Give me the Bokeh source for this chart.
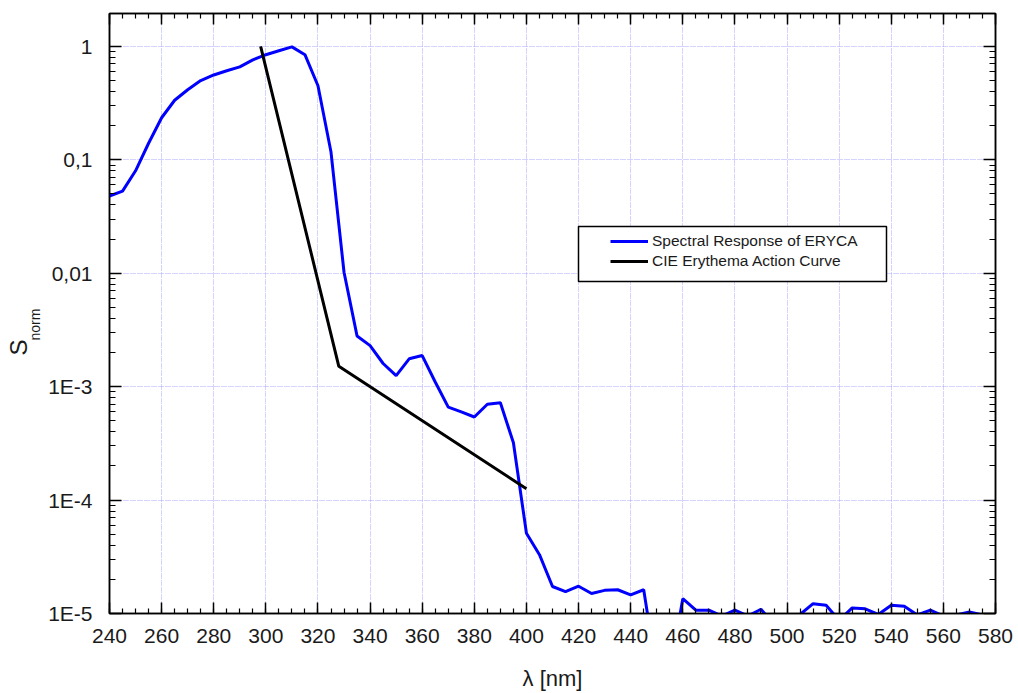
from math import pi
from bokeh.plotting import figure
from bokeh.models import (FixedTicker, LinearAxis, LogAxis, Label, BoxAnnotation,
                          Legend, LegendItem, Range1d)
from bokeh.embed import file_html
from bokeh.resources import INLINE

# ---------------- data ----------------
wavelength_nm = [240, 245, 250, 255, 260, 265, 270, 275, 280, 285, 290, 295,
                 300, 305, 310, 315, 320, 325, 330, 335, 340, 345, 350, 355,
                 360, 365, 370, 375, 380, 385, 390, 395, 400, 405, 410, 415,
                 420, 425, 430, 435, 440, 445, 450, 455, 460, 465, 470, 475,
                 480, 485, 490, 495, 500, 505, 510, 515, 520, 525, 530, 535,
                 540, 545, 550, 555, 560, 565, 570, 575, 580]
spectral_response_eryca = [0.048, 0.053, 0.080, 0.14, 0.235, 0.335, 0.415, 0.50,
                           0.56, 0.61, 0.66, 0.76, 0.845, 0.915, 0.99, 0.845,
                           0.45, 0.117, 0.0102, 0.0028, 0.0023, 0.0016, 0.00125,
                           0.00176, 0.00188, 0.0011, 0.00066, 0.0006, 0.00054,
                           0.0007, 0.00072, 0.00032, 5.1e-5, 3.3e-5, 1.73e-5,
                           1.56e-5, 1.74e-5, 1.5e-5, 1.6e-5, 1.62e-5, 1.46e-5,
                           1.62e-5, 3e-6, 3e-6, 1.35e-5, 1.07e-5, 1.07e-5, 9.5e-6,
                           1.07e-5, 9.5e-6, 1.09e-5, 8e-6, 5e-6, 9.8e-6, 1.22e-5,
                           1.18e-5, 8.7e-6, 1.12e-5, 1.1e-5, 9.8e-6, 1.18e-5,
                           1.16e-5, 9.7e-6, 1.07e-5, 9.5e-6, 9.7e-6, 1.03e-5,
                           9.7e-6, 9e-6]
cie_wavelength_nm = [298, 328, 400]
cie_erythema = [1.0, 0.00151, 0.000126]

x_tick_values = [240, 260, 280, 300, 320, 340, 360, 380, 400, 420, 440, 460,
                 480, 500, 520, 540, 560, 580]
x_minor_values = list(range(240, 581, 5))
y_tick_values = [1e-5, 1e-4, 1e-3, 1e-2, 1e-1, 1.0]
y_tick_labels = ["1E-5", "1E-4", "1E-3", "0,01", "0,1", "1"]
y_minor_values = [m * d for d in [1e-5, 1e-4, 1e-3, 1e-2, 1e-1] for m in range(2, 10)]

series_names = ["Spectral Response of ERYCA", "CIE Erythema Action Curve"]
x_label = "λ [nm]"
y_label_main = "S"
y_label_sub = "norm"

FONT = "Liberation Sans"

# ---------------- figure ----------------
p = figure(width=1018, height=693,
           x_range=Range1d(240, 580), y_range=Range1d(1e-5, 1.95),
           y_axis_type="log", output_backend="svg", toolbar_location=None,
           min_border_left=109, min_border_right=23,
           min_border_top=13, min_border_bottom=78)
p.background_fill_color = "white"
p.border_fill_color = "white"
p.outline_line_color = "black"
p.outline_line_width = 1.5

x_ticker = FixedTicker(ticks=x_tick_values, minor_ticks=x_minor_values)
y_ticker = FixedTicker(ticks=y_tick_values, minor_ticks=y_minor_values)

top_axis = LinearAxis()
right_axis = LogAxis()
p.add_layout(top_axis, "above")
p.add_layout(right_axis, "right")


def style(ax, ticker, major_len, minor_len, labels):
    ax.ticker = ticker
    ax.axis_line_color = "black"
    ax.axis_line_width = 1.5
    ax.major_tick_in = major_len
    ax.major_tick_out = 0
    ax.minor_tick_in = minor_len
    ax.minor_tick_out = 0
    ax.major_tick_line_color = "black"
    ax.major_tick_line_width = 1.5
    ax.minor_tick_line_color = "black"
    ax.minor_tick_line_width = 1.2
    ax.major_label_text_font = FONT
    ax.major_label_text_color = "#1a1a1a"
    ax.major_label_text_font_size = "21px"
    if not labels:
        ax.major_label_overrides = {v: "" for v in ticker.ticks}
        ax.major_label_standoff = 0


xaxis = p.below[0]
yaxis = p.left[0]
style(xaxis, x_ticker, 11, 5, True)
style(top_axis, x_ticker, 11, 5, False)
style(yaxis, y_ticker, 12, 6, True)
style(right_axis, y_ticker, 12, 6, False)

xaxis.major_label_standoff = 15
xaxis.axis_label = x_label
xaxis.axis_label_text_font = FONT
xaxis.axis_label_text_font_size = "22px"
xaxis.axis_label_text_font_style = "normal"
xaxis.axis_label_text_color = "#1a1a1a"
xaxis.axis_label_standoff = 20

yaxis.major_label_standoff = 17
yaxis.major_label_overrides = {v: t for v, t in zip(y_tick_values, y_tick_labels)}

p.grid.grid_line_color = "#a8a8ff"
p.grid.grid_line_dash = "1 1 1 1 1 2"
p.grid.grid_line_width = 1

# ---------------- lines ----------------
r_blue = p.line(wavelength_nm, spectral_response_eryca, line_color="#0000ff", line_width=3)
r_black = p.line(cie_wavelength_nm, cie_erythema, line_color="black", line_width=3)

# ---------------- legend ----------------
box = BoxAnnotation(left=578, right=886, top=226, bottom=281,
                    left_units="canvas", right_units="canvas",
                    top_units="canvas", bottom_units="canvas",
                    fill_color="white", fill_alpha=1.0,
                    line_color="black", line_alpha=1.0, line_width=1.5)
p.add_layout(box)

legend = Legend(items=[LegendItem(label=series_names[0], renderers=[r_blue]),
                       LegendItem(label=series_names[1], renderers=[r_black])],
                location=(501, 342), padding=0, spacing=0, margin=0,
                label_height=20, glyph_height=20, glyph_width=38,
                label_standoff=4, label_text_font=FONT,
                label_text_font_size="15.5px", label_text_color="#1a1a1a",
                border_line_alpha=0, background_fill_alpha=0)
p.add_layout(legend)

# ---------------- y axis title (placed in the left panel so it is not clipped) ----------------
p.add_layout(Label(x=18, y=347, x_units="canvas", y_units="canvas", text=y_label_main,
                   angle=pi / 2, text_align="center", text_baseline="middle",
                   text_font=FONT, text_font_size="24px", text_color="#1a1a1a"), "left")
p.add_layout(Label(x=34, y=324, x_units="canvas", y_units="canvas", text=y_label_sub,
                   angle=pi / 2, text_align="center", text_baseline="middle",
                   text_font=FONT, text_font_size="14px", text_color="#1a1a1a"), "left")

open("out.html", "w").write(file_html(p, INLINE))
